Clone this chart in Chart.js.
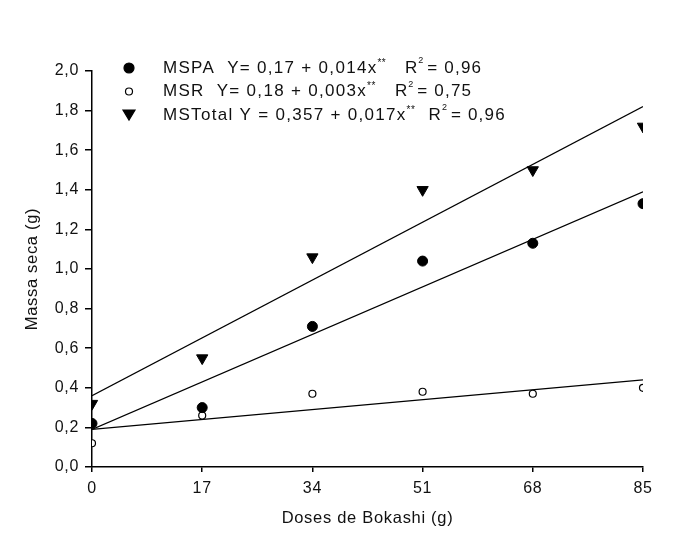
<!DOCTYPE html>
<html>
<head>
<meta charset="utf-8">
<script src="https://cdn.jsdelivr.net/npm/chart.js@4/dist/chart.umd.min.js"></script>
<style>
  html, body { margin: 0; padding: 0; background: #fff; }
</style>
</head>
<body>
<canvas id="chart" width="678" height="535"></canvas>
<script>
// dados
const doses = [0, 17, 34, 51, 68, 85];
const mspa = [0.22, 0.30, 0.71, 1.04, 1.13, 1.33];
const msr = [0.12, 0.26, 0.37, 0.38, 0.37, 0.40];
const msTotal = [0.32, 0.55, 1.06, 1.40, 1.50, 1.72];

// retas ajustadas (extremos)
const fitX = [0, 85];
const fitMspa = [0.19, 1.39];
const fitMsr = [0.19, 0.44];
const fitTotal = [0.36, 1.82];

const legendRows = [
  { label: 'MSPA  Y= 0,17 + 0,014x', r2: '= 0,96', style: 'circle', fill: '#000', radius: 5, rX: 405 },
  { label: 'MSR  Y= 0,18 + 0,003x', r2: '= 0,75', style: 'circle', fill: '#fff', radius: 3.5, rX: 395 },
  { label: 'MSTotal Y = 0,357 + 0,017x', r2: '= 0,96', style: 'triangle', fill: '#000', radius: 6, rX: 427 }
];

const toXY = (xs, ys) => xs.map((x, i) => ({ x: x, y: ys[i] }));
const fmt = v => Number(v).toFixed(1).replace('.', ',');
const FONT = '"Liberation Sans", Arial, sans-serif';

const legendPlugin = {
  id: 'legendaInterna',
  afterDraw(chart) {
    const ctx = chart.ctx;
    ctx.save();
    ctx.textBaseline = 'middle';
    ctx.textAlign = 'left';
    legendRows.forEach((row, i) => {
      const y = 68 + i * 23.5;
      ctx.fillStyle = row.fill;
      ctx.strokeStyle = '#000';
      ctx.lineWidth = 1.2;
      ctx.beginPath();
      if (row.style === 'circle') {
        ctx.arc(129, y, row.radius, 0, Math.PI * 2);
      } else {
        ctx.moveTo(129 - 6, y - 5);
        ctx.lineTo(129 + 6, y - 5);
        ctx.lineTo(129, y + 5);
        ctx.closePath();
      }
      ctx.fill();
      ctx.stroke();

      ctx.fillStyle = '#111';
      ctx.font = '17px ' + FONT;
      ctx.letterSpacing = '1.3px';
      ctx.fillText(row.label, 163, y);
      const w = ctx.measureText(row.label).width;
      ctx.font = '10px ' + FONT;
      ctx.letterSpacing = '0.5px';
      ctx.fillText('**', 163 + w, y - 5);
      ctx.font = '17px ' + FONT;
      ctx.letterSpacing = '0px';
      const rx = Math.max(row.rX, 163 + w + 22);
      ctx.fillText('R', rx, y);
      const wr = ctx.measureText('R').width;
      ctx.font = '9px ' + FONT;
      ctx.fillText('2', rx + wr + 1, y - 7);
      ctx.font = '17px ' + FONT;
      ctx.letterSpacing = '1.2px';
      ctx.fillText(row.r2, rx + wr + 10, y);
    });
    ctx.restore();
  }
};

const bgPlugin = {
  id: 'fundo',
  beforeDraw(chart) {
    const ctx = chart.ctx;
    ctx.save();
    ctx.fillStyle = '#fff';
    ctx.fillRect(0, 0, chart.width, chart.height);
    ctx.restore();
    ctx.letterSpacing = '0.7px';
  }
};

const fitLine = (data) => ({
  type: 'line',
  data: data,
  borderColor: '#000',
  borderWidth: 1.2,
  pointRadius: 0,
  fill: false,
  tension: 0,
  order: 2
});

const tickFont = { family: FONT, size: 16 };
const titleFont = { family: FONT, size: 16.5 };

const config = {
  type: 'scatter',
  data: {
    datasets: [
      fitLine(toXY(fitX, fitMspa)),
      fitLine(toXY(fitX, fitMsr)),
      fitLine(toXY(fitX, fitTotal)),
      {
        label: 'MSPA',
        data: toXY(doses, mspa),
        pointStyle: 'circle',
        pointRadius: 5,
        backgroundColor: '#000',
        borderColor: '#000',
        order: 1
      },
      {
        label: 'MSR',
        data: toXY(doses, msr),
        pointStyle: 'circle',
        pointRadius: 3.5,
        backgroundColor: '#fff',
        borderColor: '#000',
        borderWidth: 1.2,
        order: 1
      },
      {
        label: 'MSTotal',
        data: toXY(doses, msTotal),
        pointStyle: 'triangle',
        pointRadius: 6.5,
        rotation: 180,
        backgroundColor: '#000',
        borderColor: '#000',
        order: 1
      }
    ]
  },
  options: {
    responsive: false,
    animation: false,
    layout: { padding: { top: 71, right: 35, left: 0, bottom: 0 } },
    plugins: {
      legend: { display: false },
      tooltip: { enabled: false }
    },
    scales: {
      x: {
        type: 'linear',
        min: 0,
        max: 85,
        afterFit(scale) { scale.height = 68; },
        afterBuildTicks(scale) { scale.ticks = doses.map(v => ({ value: v })); },
        ticks: {
          color: '#111',
          font: tickFont,
          padding: 7,
          maxRotation: 0,
          callback: v => String(v)
        },
        grid: { display: true, drawOnChartArea: false, drawTicks: true, tickLength: 5, color: '#000', lineWidth: 1.5 },
        border: { display: true, color: '#000', width: 1.5 },
        title: {
          display: true,
          text: 'Doses de Bokashi (g)',
          color: '#111',
          font: titleFont,
          padding: { top: 7, bottom: 7 }
        }
      },
      y: {
        min: 0,
        max: 2,
        afterFit(scale) { scale.width = 92; },
        ticks: {
          stepSize: 0.2,
          color: '#111',
          font: tickFont,
          padding: 6,
          callback: v => fmt(v)
        },
        grid: { display: true, drawOnChartArea: false, drawTicks: true, tickLength: 7, color: '#000', lineWidth: 1.5 },
        border: { display: true, color: '#000', width: 1.5 },
        title: {
          display: true,
          text: 'Massa seca (g)',
          color: '#111',
          font: titleFont,
          padding: { top: 23, bottom: 23 }
        }
      }
    }
  },
  plugins: [bgPlugin, legendPlugin]
};

new Chart(document.getElementById('chart'), config);
</script>
</body>
</html>
